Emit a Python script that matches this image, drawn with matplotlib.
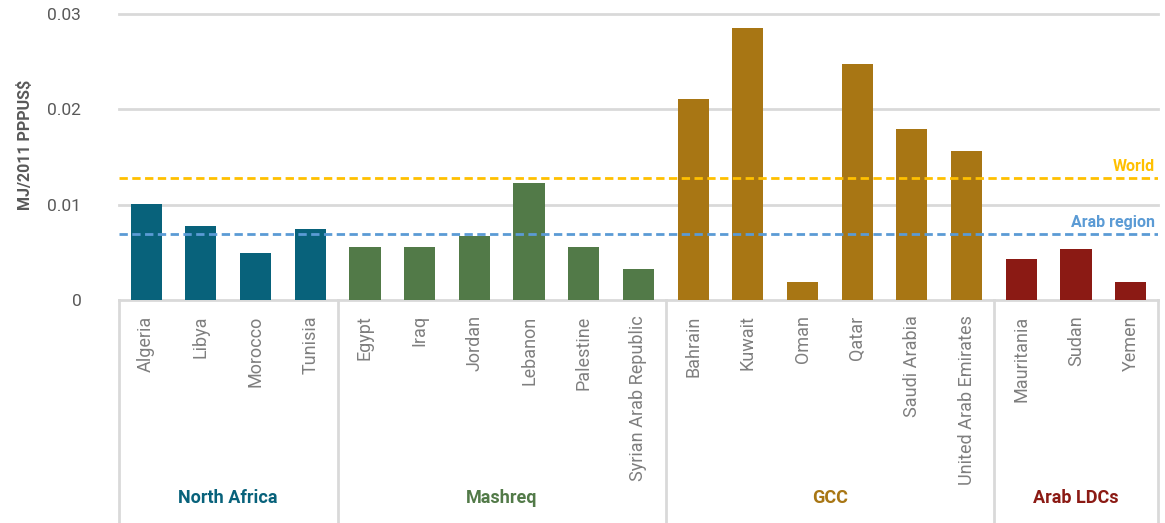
import matplotlib.pyplot as plt
import numpy as np

countries = ["Algeria", "Libya", "Morocco", "Tunisia",
             "Egypt", "Iraq", "Jordan", "Lebanon", "Palestine", "Syrian Arab Republic",
             "Bahrain", "Kuwait", "Oman", "Qatar", "Saudi Arabia", "United Arab Emirates",
             "Mauritania", "Sudan", "Yemen"]
values = [0.0101, 0.0078, 0.0049, 0.0074,
          0.0056, 0.0056, 0.0067, 0.0123, 0.0056, 0.0033,
          0.0211, 0.0285, 0.0019, 0.0248, 0.0179, 0.0156,
          0.0043, 0.0053, 0.0019]
groups = ["North Africa", "Mashreq", "GCC", "Arab LDCs"]
group_sizes = [4, 6, 6, 3]
group_colors = ["#08627b", "#527a48", "#a87614", "#8b1a14"]
world = 0.0128
arab_region = 0.0069

plt.rcParams["font.family"] = ["Roboto", "DejaVu Sans"]

fig = plt.figure(figsize=(11.65, 5.23), dpi=100)
ax = fig.add_axes([0.102, 0.4264, 0.892, 0.5468])

x = np.arange(len(countries))
bar_colors = []
for color, n in zip(group_colors, group_sizes):
    bar_colors += [color] * n
ax.bar(x, values, width=0.57, color=bar_colors, zorder=3)

grid_color = "#d9d9d9"
for yv in [0.0, 0.01, 0.02, 0.03]:
    ax.axhline(yv, color=grid_color, linewidth=2, zorder=1, clip_on=False)

ax.axhline(world, color="#ffc000", linewidth=2, linestyle=(0, (3, 1.6)), zorder=4)
ax.axhline(arab_region, color="#5b9bd5", linewidth=2, linestyle=(0, (3, 1.6)), zorder=4)
ax.annotate("World", xy=(1, world), xycoords=("axes fraction", "data"),
            xytext=(-2, 3), textcoords="offset points", ha="right", va="bottom",
            color="#ffc000", fontsize=11.5, fontweight="bold")
ax.annotate("Arab region", xy=(1, arab_region), xycoords=("axes fraction", "data"),
            xytext=(-2, 3), textcoords="offset points", ha="right", va="bottom",
            color="#5b9bd5", fontsize=11.5, fontweight="bold")

ax.set_xlim(-0.5, len(countries) - 0.5)
ax.set_ylim(0, 0.03)
ax.set_yticks([0, 0.01, 0.02, 0.03])
ax.set_yticklabels(["0", "0.01", "0.02", "0.03"])
ax.set_xticks(x)
ax.set_xticklabels(countries, rotation=90, va="top")
ax.tick_params(axis="x", length=0, pad=11, labelsize=13, labelcolor="#7f7f7f")
ax.tick_params(axis="y", length=0, pad=27, labelsize=12.5, labelcolor="#595959")
for s in ax.spines.values():
    s.set_visible(False)

# group boxes under the axis
bottom = -(523 - 300) / 286
start = 0
bounds = [-0.5]
for name, n, color in zip(groups, group_sizes, group_colors):
    end = start + n
    bounds.append(end - 0.5)
    ax.text((start + end - 1) / 2, -0.692, name, transform=ax.get_xaxis_transform(),
            ha="center", va="center", color=color, fontsize=13, fontweight="bold")
    start = end
for b in bounds:
    ax.plot([b, b], [0, bottom], transform=ax.get_xaxis_transform(),
            color=grid_color, linewidth=2, clip_on=False, zorder=1)

fig.text(25 / 1165, 1 - 145 / 523, "MJ/2011 PPPUS$", rotation=90, ha="center", va="center",
         fontsize=11.5, fontweight="bold", color="#595959")

fig.savefig("out.png", dpi=100)
